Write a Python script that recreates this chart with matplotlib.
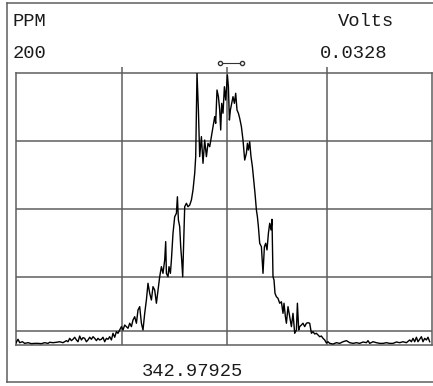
import numpy as np
import matplotlib.pyplot as plt

# sweep channel and signal (PPM)
channel = [0, 2.3, 4, 6.7, 9, 12.3, 15.7, 19, 22.3, 25.7, 29, 32.3, 34, 37.3, 40.7, 44, 47.3, 50.7, 52.3, 54,
           55.7, 57.3, 59, 60.7, 62.3, 64, 65.7, 67.3, 69, 70.7, 72.3, 74, 75.7, 77.3, 79, 80.7, 82.3, 84, 85.7, 87.3,
           89, 90.7, 92.3, 94, 95.7, 97.3, 99, 100.7, 102.3, 104,
           105.7, 107.3, 109, 110.7, 112.3, 114, 115.7, 117.3, 119, 120.7, 122.3, 124, 125.7, 127.3, 129, 130.7,
           132.3, 134, 135.7, 137.3, 139, 140.7, 142.3, 144, 145.7, 147.3, 149, 150, 150.7, 152.3, 153.3, 154.7,
           155.7, 157.3, 159, 160.7, 161.7, 162.7, 164, 165, 166, 167, 168, 169, 170.7, 172.3, 174, 175.7, 177.3,
           179, 180, 181.3, 182.7, 184, 185.7, 187.3, 189, 190.7, 192.3, 194, 195.7, 197.3, 199, 200, 201.3, 202.7,
           204, 205, 206, 207.3, 208.7, 210, 210.7, 211.7, 212.7, 213.7, 214.7, 216, 217.3, 218.7, 220, 221.3,
           222.7, 224, 225.7, 227.3, 229, 230.7, 231.7, 232.7, 234, 235.3, 236.7, 238, 239.3, 240.7, 241.7, 242.7,
           244, 245.7, 247.3, 248.7, 250, 251.3, 252.7, 254, 255.3, 256.3, 257.3, 258.3, 259.3, 260.7, 262.3, 264,
           265.7, 267.3, 268.3, 269.7, 270.7, 272.3, 274, 275.7, 277.3, 279, 280.7, 281.7, 283, 284, 285.7, 287.3,
           289, 290.7, 292.3, 294, 295.7, 297.3, 299, 300.7, 302.3, 304, 305.7, 307.3, 309, 310.7, 312.3, 314,
           317.3, 320.7, 324, 327.3, 330.7, 334, 337.3, 340.7, 344, 347.3, 350.7, 352.3, 354, 357.3, 360.7, 364,
           367.3, 370.7, 374, 377.3, 380.7, 384, 387.3, 390.7, 394, 395.7, 397.3, 399, 400.7, 402.3, 404, 405.7,
           407.3, 409, 410.7, 412.3, 414]
ppm = [1.2, 4.2, 1.7, 2.4, 1.2, 1.7, 1.0, 1.2, 1.2, 1.0, 1.7, 1.2, 2.0, 1.7, 2.0, 2.4, 1.7, 3.2, 2.4, 4.9,
       3.2, 4.2, 5.7, 3.7, 2.4, 6.6, 3.7, 5.4, 4.9, 2.4, 3.7, 5.7, 4.2, 6.1, 4.9, 3.2, 4.9, 3.7, 4.2, 5.7,
       2.4, 4.9, 4.2, 6.1, 3.7, 8.6, 5.7, 9.8, 8.6, 11.0,
       13.5, 11.0, 14.7, 13.5, 12.3, 16.0, 13.5, 18.4, 20.8, 16.0, 25.7, 28.2, 16.0, 11.0, 23.3, 33.1,
       45.4, 38.0, 33.1, 42.9, 40.4, 30.7, 40.4, 50.2, 57.6, 52.7, 62.5, 76.0, 52.7, 50.2, 57.6, 52.7,
       62.5, 82.1, 94.3, 96.8, 109.0, 91.9, 87.0, 72.3, 62.5, 50.2, 77.2, 101.7, 104.2, 101.7, 102.9, 106.6, 114.0,
       126.2, 138.5, 200.0, 172.8, 138.5, 153.2, 133.6, 150.7, 138.5, 148.3, 145.8, 153.2, 160.5, 167.9, 163.0, 187.5, 182.6,
       172.8, 158.1, 177.7, 170.4, 189.9, 180.1, 187.5, 198.5, 189.9, 165.4, 172.8, 177.7, 182.6, 177.7, 185.1, 172.8,
       170.4, 166.7, 160.5, 150.7, 136.0, 141.0, 148.3, 143.4, 149.5, 138.5, 131.1, 121.3, 111.5, 99.3, 94.3, 87.0,
       74.8, 72.3, 52.7, 72.3, 74.8, 69.9, 82.1, 89.5, 84.6, 92.4, 50.2, 47.8, 38.0, 35.5, 34.3, 30.7,
       31.8, 23.3, 30.7, 20.8, 16.0, 28.2, 20.8, 13.5, 23.3, 8.6, 11.0, 30.7, 11.0, 13.5, 14.7, 16.0,
       13.5, 16.0, 16.4, 16.0, 8.6, 9.8, 8.1, 8.6, 7.4, 6.1, 6.6, 4.9, 3.7, 1.5, 2.4, 1.2,
       0.7, 1.7, 1.2, 2.4, 3.2, 1.7, 1.2, 1.7, 1.2, 2.2, 1.7, 3.2, 1.2, 2.4, 1.7, 1.2,
       1.2, 1.7, 1.2, 1.2, 2.2, 1.7, 2.4, 1.7, 3.7, 2.4, 4.9, 2.4, 5.7, 2.4, 4.2, 6.1,
       2.4, 4.9, 3.7, 5.7, 2.4]

x_grid = [106, 211, 311]
y_grid = [10, 50, 100, 150]
marker_span = [204, 226]

grey = '#5e5e5e'
mono = 'Liberation Mono'

fig = plt.figure(figsize=(4.33, 3.86), dpi=100)
ax = fig.add_axes([15.7 / 433, 41 / 386, 416 / 433, 272 / 386])

for gx in x_grid:
    ax.axvline(gx, color=grey, lw=1.1, zorder=1)
for gy in y_grid:
    ax.axhline(gy, color=grey, lw=1.1, zorder=1)

ax.plot(channel, ppm, color='black', lw=1.0, zorder=3)

# little field marker above the centre line
ax.plot(marker_span, [207, 207], color='#333333', lw=0.8, marker='o', ms=3,
        mfc='white', mec='#333333', clip_on=False)

ax.set_xlim(0, 416)
ax.set_ylim(0, 200)
ax.set_xticks(x_grid)
ax.set_yticks([])
ax.tick_params(axis='x', bottom=False, top=True, labelbottom=False, direction='out',
               length=4, color=grey, width=1.1)
for s in ax.spines.values():
    s.set_color(grey)
    s.set_linewidth(1.1)

# outer frame of the printout
fig.add_artist(plt.Line2D([7 / 433, 7 / 433], [1 - 3 / 386, 1 - 382 / 386], color=grey, lw=1.1))
fig.add_artist(plt.Line2D([7 / 433, 1], [1 - 3 / 386, 1 - 3 / 386], color=grey, lw=1.1))
fig.add_artist(plt.Line2D([7 / 433, 1], [1 - 382 / 386, 1 - 382 / 386], color=grey, lw=1.1))

fig.text(13 / 433, 1 - 22 / 386, 'PPM', family=mono, fontsize=13.5, va='center', color='#1a1a1a')
fig.text(338 / 433, 1 - 22 / 386, 'Volts', family=mono, fontsize=13.5, va='center', color='#1a1a1a')
fig.text(13 / 433, 1 - 53 / 386, '200', family=mono, fontsize=13.5, va='center', color='#1a1a1a')
fig.text(320 / 433, 1 - 53 / 386, '0.0328', family=mono, fontsize=13.5, va='center', color='#1a1a1a')
fig.text(142 / 433, 1 - 372 / 386, '342.97925', family=mono, fontsize=13.5, va='center', color='#1a1a1a')

fig.savefig('out.png', dpi=100)
